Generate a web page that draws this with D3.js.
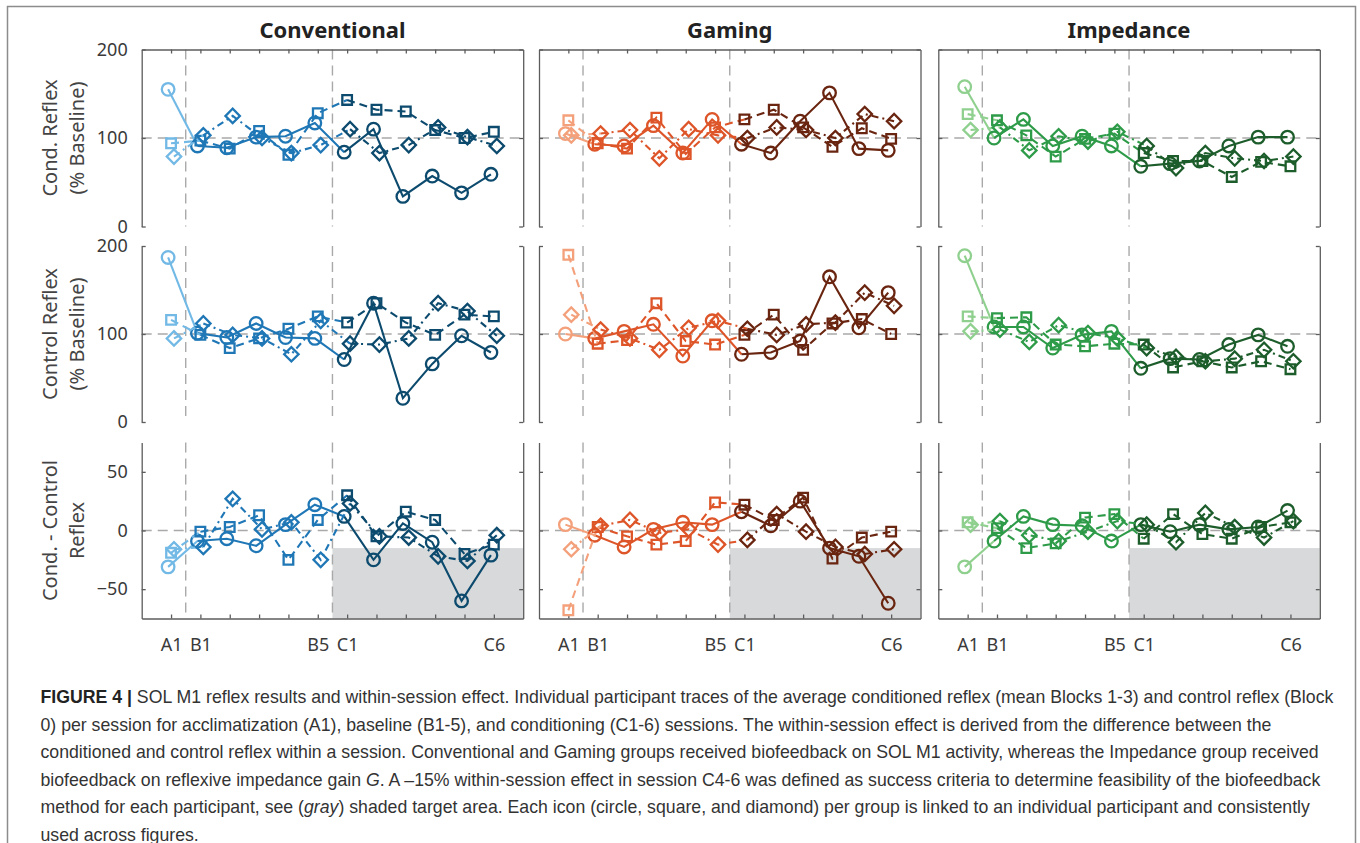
<!DOCTYPE html>
<html>
<head>
<meta charset="utf-8">
<script src="https://cdn.jsdelivr.net/npm/d3@7"></script>
<style>
  body { margin: 0; background: #fff; }
  svg { display: block; }
</style>
</head>
<body>
<svg id="fig" width="1360" height="843"></svg>
<script>
// ---- Data -------------------------------------------------------------
const sessions   = ["A1","B1","B2","B3","B4","B5","C1","C2","C3","C4","C5","C6"];
const tickLabels = ["A1","B1","","","","B5","C1","","","","","C6"];
const groups     = ["Conventional","Gaming","Impedance"];
const participants = ["circle","square","diamond"];

// Conditioned reflex (% baseline), one row per participant: circle, square, diamond
const convCond = [
  [155, 91, 89, 101, 102, 117, 84, 110, 34, 57, 38, 59],
  [94, 97, 88, 108, 81, 128, 143, 132, 130, 109, 100, 107],
  [79, 103, 125, 100, 83, 92, 110, 83, 92, 112, 101, 91]
];
const gameCond = [
  [105, 93, 91, 114, 83, 121, 93, 83, 119, 151, 88, 86],
  [120, 94, 88, 123, 82, 112, 121, 132, 112, 90, 111, 99],
  [103, 105, 109, 77, 110, 103, 100, 112, 109, 100, 127, 119]
];
const impCond = [
  [158, 100, 121, 91, 102, 91, 68, 71, 74, 91, 101, 101],
  [127, 120, 103, 79, 99, 105, 83, 74, 74, 56, 73, 68],
  [109, 112, 86, 102, 96, 107, 91, 66, 83, 77, 74, 79]
];

// Control reflex (% baseline)
const convCtrl = [
  [187, 101, 96, 112, 96, 95, 71, 135, 27, 66, 98, 79],
  [116, 99, 84, 95, 106, 120, 113, 135, 113, 99, 122, 120],
  [95, 112, 99, 95, 77, 115, 89, 88, 95, 135, 126, 98]
];
const gameCtrl = [
  [100, 95, 103, 111, 75, 115, 77, 79, 92, 165, 107, 147],
  [190, 89, 93, 135, 92, 88, 99, 122, 82, 112, 117, 100],
  [122, 105, 95, 82, 107, 115, 106, 99, 111, 113, 147, 132]
];
const impCtrl = [
  [189, 108, 108, 84, 99, 103, 61, 72, 71, 88, 99, 86],
  [120, 118, 119, 88, 86, 89, 88, 62, 69, 62, 69, 60],
  [103, 105, 91, 110, 101, 95, 84, 74, 69, 72, 82, 69]
];

// Within-session effect: conditioned - control
const convDiff = [
  [-31, -9, -7, -13, 5, 22, 12, -25, 6, -10, -60, -21],
  [-19, -1, 3, 13, -25, 9, 30, -5, 16, 9, -20, -12],
  [-16, -14, 27, 1, 7, -25, 23, -5, -6, -22, -26, -4]
];
const gameDiff = [
  [5, -4, -14, 1, 7, 5, 16, 4, 25, -15, -22, -62],
  [-68, 3, -5, -12, -9, 24, 22, 9, 28, -24, -6, -1],
  [-16, 4, 9, -2, 1, -12, -8, 14, -1, -14, -20, -16]
];
const impDiff = [
  [-31, -9, 12, 5, 4, -9, 5, -1, 5, 1, 3, 17],
  [7, 2, -15, -11, 11, 14, -7, 14, -3, -7, 3, 7],
  [5, 8, -4, -9, -1, 8, 5, -10, 15, 3, -6, 8]
];

const targetLevel = -15;   // success threshold for C4-6 (%)

// Phase colours per group: acclimatization, baseline, conditioning
const groupColors = [
  ["#72b9e6", "#1f77b6", "#0c4a6e"],
  ["#f3a07b", "#dd5528", "#6a2510"],
  ["#8fd08f", "#2e9b49", "#1c5d2b"]
];

const panelData = [
  [convCond, gameCond, impCond],
  [convCtrl, gameCtrl, impCtrl],
  [convDiff, gameDiff, impDiff]
];

// ---- Layout -----------------------------------------------------------
const svg = d3.select("#fig");
const panelLefts = [141.7, 539, 938.3];
const panelW = 381.5;
const rows = [
  { top: 49.5,  bottom: 226.5, domain: [0, 200],  ticks: [0, 100, 200], ref: 100,
    label: ["Cond. Reflex", "(% Baseline)"] },
  { top: 246,   bottom: 422,   domain: [0, 200],  ticks: [0, 100, 200], ref: 100,
    label: ["Control Reflex", "(% Baseline)"] },
  { top: 442.5, bottom: 618.5, domain: [-75, 75], ticks: [-50, 0, 50],  ref: 0,
    label: ["Cond. - Control", "Reflex"] }
];
const jitter = [-0.1, 0, 0.1];
const dashes = [null, "8,5", "7,4,2,4"];
const phaseOf = i => (i === 0 ? 0 : i <= 5 ? 1 : 2);

const axisColor = "#5c5c5c";
const textColor = "#3a3a3a";
const refColor = "#a9a9a9";
const fontTick = "'Noto Sans', 'Open Sans', sans-serif";

// outer frame
svg.append("rect")
  .attr("x", 7.5).attr("y", 6.5).attr("width", 1348).attr("height", 860)
  .attr("fill", "none").attr("stroke", "#8c8c8c").attr("stroke-width", 1.5);

// group titles
groups.forEach((g, gi) => {
  svg.append("text")
    .attr("x", panelLefts[gi] + panelW / 2).attr("y", 38)
    .attr("text-anchor", "middle")
    .attr("font-family", fontTick).attr("font-weight", "bold")
    .attr("font-size", 22).attr("fill", "#222")
    .text(g);
});

// row y-labels
rows.forEach(r => {
  const cy = (r.top + r.bottom) / 2;
  [57, 84].forEach((bx, li) => {
    svg.append("text")
      .attr("transform", `translate(${bx},${cy}) rotate(-90)`)
      .attr("text-anchor", "middle")
      .attr("font-family", fontTick).attr("font-size", 20)
      .attr("fill", "#444")
      .text(r.label[li]);
  });
});

const symCircle = d3.symbol().type(d3.symbolCircle).size(Math.PI * 6.3 * 6.3);
const symSquare = d3.symbol().type(d3.symbolSquare).size(92);
const symDiamond = d3.symbol().type(d3.symbolSquare).size(104);

rows.forEach((r, ri) => {
  groups.forEach((g, gi) => {
    const left = panelLefts[gi], right = left + panelW;
    const x = d3.scaleLinear().domain([-1, 12]).range([left, right]);
    const y = d3.scaleLinear().domain(r.domain).range([r.bottom, r.top]);
    const gp = svg.append("g");

    // shaded target area (conditioning sessions, within-session effect row)
    if (ri === 2) {
      gp.append("rect")
        .attr("x", x(5.5)).attr("y", y(targetLevel))
        .attr("width", x(12) - x(5.5)).attr("height", y(r.domain[0]) - y(targetLevel))
        .attr("fill", "#d8d9da");
    }

    // reference lines
    gp.append("line")
      .attr("x1", x(-1)).attr("x2", x(12)).attr("y1", y(r.ref)).attr("y2", y(r.ref))
      .attr("stroke", refColor).attr("stroke-width", 1.4).attr("stroke-dasharray", "10,6");
    [0.5, 5.5].forEach(v => {
      gp.append("line")
        .attr("x1", x(v)).attr("x2", x(v)).attr("y1", r.top).attr("y2", r.bottom)
        .attr("stroke", refColor).attr("stroke-width", 1.4).attr("stroke-dasharray", "10,6");
    });

    // axes
    const yl = d3.axisLeft(y).tickValues(r.ticks).tickSizeInner(-4).tickSizeOuter(0).tickPadding(14);
    if (gi > 0) yl.tickFormat(() => "");
    const yr = d3.axisRight(y).tickValues(r.ticks).tickSizeInner(-4).tickSizeOuter(0).tickFormat(() => "");
    const styleAxis = sel => {
      sel.selectAll("path, line").attr("stroke", axisColor).attr("stroke-width", 1.3);
      sel.selectAll("text").attr("fill", textColor).attr("font-size", 18).attr("font-family", fontTick);
    };
    gp.append("g").attr("transform", `translate(${left},0)`).call(yl).call(styleAxis);
    gp.append("g").attr("transform", `translate(${right},0)`).call(yr).call(styleAxis);
    if (ri === 0) {
      const xt = d3.axisTop(x).tickValues(d3.range(12)).tickSizeInner(-4).tickSizeOuter(0).tickFormat(() => "");
      gp.append("g").attr("transform", `translate(0,${r.top})`).call(xt).call(styleAxis);
    }
    if (ri === 2) {
      const xb = d3.axisBottom(x).tickValues(d3.range(12)).tickSizeInner(-4).tickSizeOuter(0)
        .tickPadding(20).tickFormat(i => tickLabels[i]);
      gp.append("g").attr("transform", `translate(0,${r.bottom})`).call(xb).call(styleAxis);
    }

    // participant traces
    const series = panelData[ri][gi];
    const cols = groupColors[gi];
    series.forEach((vals, pi) => {
      const pts = vals.map((v, i) => ({ i, v }));
      const line = d3.line().x(d => x(d.i + jitter[pi])).y(d => y(d.v));
      // one path per phase, each starting at the first point of that phase
      const phaseSegs = [pts.slice(0, 2), pts.slice(1, 7), pts.slice(6, 12)];
      phaseSegs.forEach((seg, ph) => {
        gp.append("path")
          .attr("d", line(seg))
          .attr("fill", "none")
          .attr("stroke", cols[ph])
          .attr("stroke-width", 2.1)
          .attr("stroke-dasharray", dashes[pi]);
      });
      gp.selectAll(null).data(pts).enter().append("path")
        .attr("d", pi === 0 ? symCircle() : pi === 1 ? symSquare() : symDiamond())
        .attr("transform", d => `translate(${x(d.i + jitter[pi])},${y(d.v)})` + (pi === 2 ? " rotate(45)" : ""))
        .attr("fill", "none")
        .attr("stroke", d => cols[phaseOf(d.i)])
        .attr("stroke-width", 2.3);
    });
  });
});

// ---- Caption ----------------------------------------------------------
const captionLines = [
  [["b", "FIGURE 4 | "], ["n", "SOL M1 reflex results and within-session effect. Individual participant traces of the average conditioned reflex (mean Blocks 1-3) and control reflex (Block"]],
  [["n", "0) per session for acclimatization (A1), baseline (B1-5), and conditioning (C1-6) sessions. The within-session effect is derived from the difference between the"]],
  [["n", "conditioned and control reflex within a session. Conventional and Gaming groups received biofeedback on SOL M1 activity, whereas the Impedance group received"]],
  [["n", "biofeedback on reflexive impedance gain "], ["i", "G"], ["n", ". A \u201315% within-session effect in session C4-6 was defined as success criteria to determine feasibility of the biofeedback"]],
  [["n", "method for each participant, see ("], ["i", "gray"], ["n", ") shaded target area. Each icon (circle, square, and diamond) per group is linked to an individual participant and consistently"]],
  [["n", "used across figures."]]
];
const cap = svg.append("g")
  .attr("font-family", "'Liberation Sans', Arial, sans-serif")
  .attr("font-size", 17.7).attr("fill", "#333");
captionLines.forEach((parts, li) => {
  const t = cap.append("text").attr("x", 40.5).attr("y", 703 + li * 27.5);
  parts.forEach(([k, s]) => {
    const sp = t.append("tspan").text(s);
    if (k === "b") sp.attr("font-weight", "bold").attr("fill", "#222");
    if (k === "i") sp.attr("font-style", "italic");
  });
});
</script>
</body>
</html>
